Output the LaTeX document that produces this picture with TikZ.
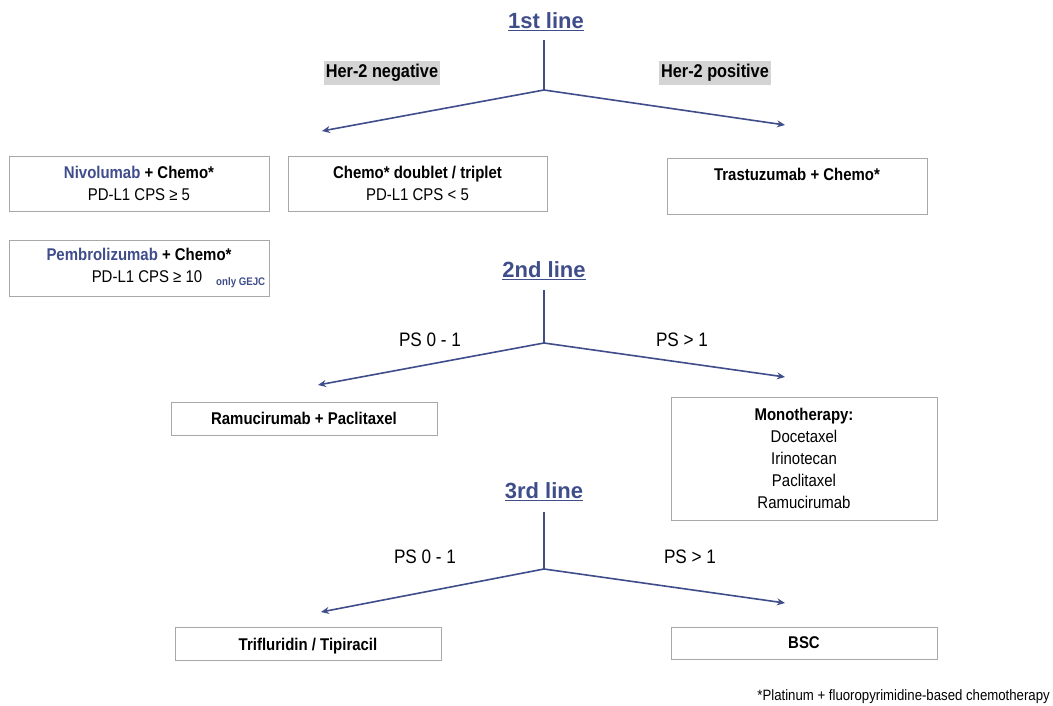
\documentclass[tikz,border=0pt]{standalone}
\usepackage{fontspec}
\setmainfont{Liberation Sans}[FakeStretch=0.88]
\newfontfamily\headfont{Liberation Sans}
\usetikzlibrary{arrows.meta}
\definecolor{navy}{HTML}{3F4D8A}
\definecolor{boxline}{HTML}{A8A8A8}
\definecolor{tagbg}{HTML}{D4D4D4}
\tikzset{
  title/.style={font=\headfont\fontsize{22}{26}\selectfont\bfseries, text=navy},
  branch/.style={draw=navy, line width=1.6pt},
  arrowline/.style={branch, -{Stealth[length=8pt,width=7pt]}},
  tag/.style={fill=tagbg, font=\fontsize{18.5}{22}\selectfont\bfseries, inner xsep=2pt, inner ysep=3pt},
  cond/.style={font=\fontsize{19.5}{23}\selectfont},
  box/.style={draw=boxline, line width=0.8pt, align=center, inner sep=0pt,
              font=\fontsize{17}{22}\selectfont},
}
\newcommand{\drug}[1]{{\color{navy}#1}}
\begin{document}
\begin{tikzpicture}[x=1pt,y=-1pt]
\useasboundingbox (0,0) rectangle (1053,706);

% ---------- 1st line ----------
\node[title] (l1) at (546,22) {\underline{1st line}};
\coordinate (f1) at (544,90);
\coordinate (f1top) at (544,40);
\coordinate (e1l) at (322,131);
\coordinate (e1r) at (785,125);
\draw[branch] (f1top) -- (f1);
\draw[arrowline] (f1) -- (e1l);
\draw[arrowline] (f1) -- (e1r);
\node[tag] (neg) at (382,73) {Her-2 negative};
\node[tag] (pos) at (715,73) {Her-2 positive};

\node[box, minimum width=260pt, minimum height=55pt] (nivo) at (139,183.5)
  {\textbf{\drug{Nivolumab} + Chemo*}\\PD-L1 CPS ≥ 5};
\node[box, minimum width=259pt, minimum height=55pt] (chemo) at (417.5,183.5)
  {\textbf{Chemo* doublet / triplet}\\PD-L1 CPS < 5};
\node[box, minimum width=260pt, minimum height=56pt, anchor=north, text depth=34pt, text height=22pt] (trast) at (797,158)
  {\textbf{Trastuzumab + Chemo*}};
\node[box, minimum width=260pt, minimum height=56pt] (pembro) at (139,268)
  {\textbf{\drug{Pembrolizumab} + Chemo*}\\\hspace*{16pt}PD-L1 CPS ≥ 10\makebox[0pt][l]{\hspace{14pt}\raisebox{-3pt}{\fontsize{11}{13}\selectfont\bfseries\color{navy}only GEJC}}};

% ---------- 2nd line ----------
\node[title] (l2) at (544,271) {\underline{2nd line}};
\coordinate (f2top) at (544,290);
\coordinate (f2) at (544,343);
\coordinate (e2l) at (318,385);
\coordinate (e2r) at (785,377);
\draw[branch] (f2top) -- (f2);
\draw[arrowline] (f2) -- (e2l);
\draw[arrowline] (f2) -- (e2r);
\node[cond] (ps2a) at (430,340) {PS 0 - 1};
\node[cond] (ps2b) at (682,340) {PS > 1};

\node[box, minimum width=266pt, minimum height=33pt] (ramu) at (304,418.5)
  {\textbf{Ramucirumab + Paclitaxel}};
\node[box, minimum width=266pt, minimum height=123pt] (mono) at (804,458.5)
  {\textbf{Monotherapy:}\\Docetaxel\\Irinotecan\\Paclitaxel\\Ramucirumab};

% ---------- 3rd line ----------
\node[title] (l3) at (544,492) {\underline{3rd line}};
\coordinate (f3top) at (544,512);
\coordinate (f3) at (544,569);
\coordinate (e3l) at (321,612);
\coordinate (e3r) at (785,603);
\draw[branch] (f3top) -- (f3);
\draw[arrowline] (f3) -- (e3l);
\draw[arrowline] (f3) -- (e3r);
\node[cond] (ps3a) at (425,557) {PS 0 - 1};
\node[cond] (ps3b) at (690,557) {PS > 1};

\node[box, minimum width=266pt, minimum height=33pt, text height=16pt, text depth=3pt] (trif) at (308,643.5)
  {\textbf{Trifluridin / Tipiracil}};
\node[box, minimum width=266pt, minimum height=32pt] (bsc) at (804,643)
  {\textbf{BSC}};

% ---------- footnote ----------
\node[anchor=east, inner sep=0pt, font=\fontsize{15}{18}\selectfont] (foot) at (1050,697)
  {*Platinum + fluoropyrimidine-based chemotherapy};
\end{tikzpicture}
\end{document}
